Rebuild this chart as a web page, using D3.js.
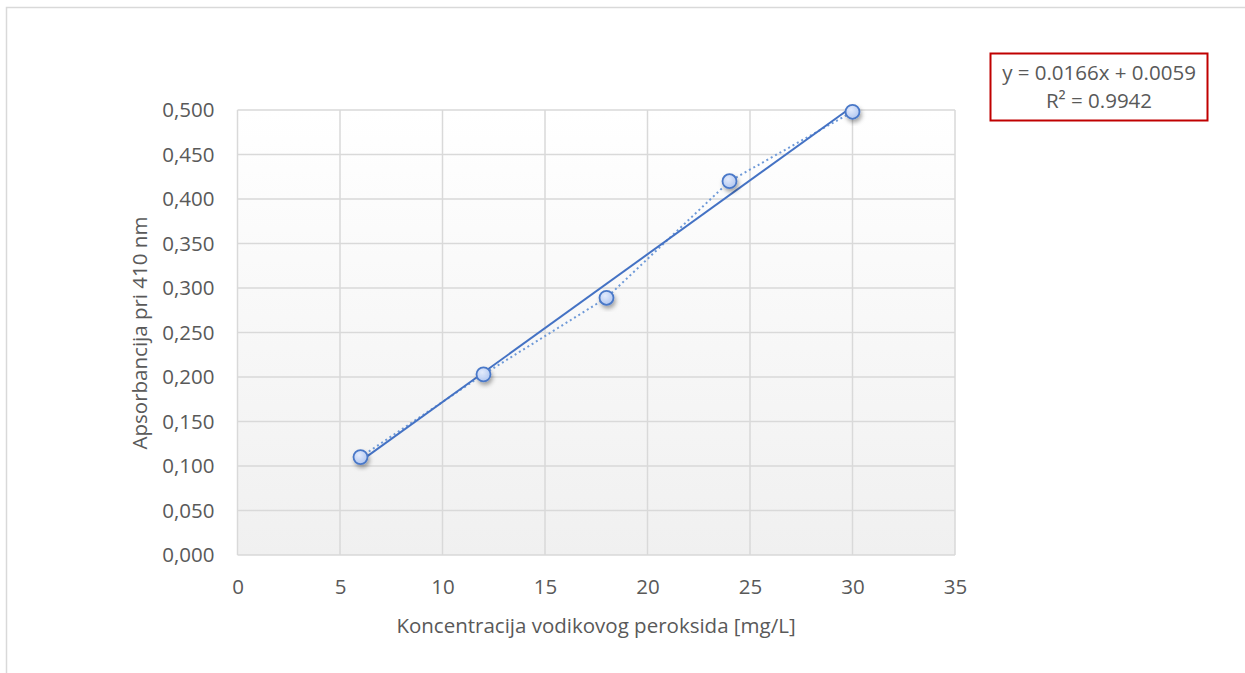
<!DOCTYPE html>
<html><head><meta charset="utf-8">
<script src="https://cdn.jsdelivr.net/npm/d3@7"></script>
<style>body{margin:0;background:#fff;}text{font-family:"Open Sans","Noto Sans",sans-serif;fill:#595959;}</style>
</head><body>
<svg id="c" width="1245" height="673"></svg>
<script>
const xValues = [6, 12, 18, 24, 30];
const yValues = [0.110, 0.203, 0.289, 0.420, 0.498];
const xTicks = [0, 5, 10, 15, 20, 25, 30, 35];
const yTicks = [0, 0.05, 0.1, 0.15, 0.2, 0.25, 0.3, 0.35, 0.4, 0.45, 0.5];
const slope = 0.0166, intercept = 0.0059;
const eqLines = ["y = 0.0166x + 0.0059", "R² = 0.9942"];
const xTitle = "Koncentracija vodikovog peroksida [mg/L]";
const yTitle = "Apsorbancija pri 410 nm";

const FS = "20.5px";
const svg = d3.select("#c");
const L = 237.5, R = 955, T = 110, B = 555;
const x = d3.scaleLinear().domain([0, 35]).range([L, R]);
const y = d3.scaleLinear().domain([0, 0.5]).range([B, T]);

svg.append("path").attr("d", "M6.5,673 V7.5 H1245").attr("fill", "none").attr("stroke", "#d9d9d9").attr("stroke-width", 1.5);

const defs = svg.append("defs");
const g1 = defs.append("linearGradient").attr("id", "bg").attr("x1", 0).attr("y1", 0).attr("x2", 0).attr("y2", 1);
g1.append("stop").attr("offset", "0%").attr("stop-color", "#ffffff");
g1.append("stop").attr("offset", "100%").attr("stop-color", "#f0f0f0");
const g2 = defs.append("radialGradient").attr("id", "mk").attr("cx", "40%").attr("cy", "35%").attr("r", "70%");
g2.append("stop").attr("offset", "0%").attr("stop-color", "#e3ebfc");
g2.append("stop").attr("offset", "100%").attr("stop-color", "#afc5f0");
const f = defs.append("filter").attr("id", "sh").attr("x", "-50%").attr("y", "-50%").attr("width", "200%").attr("height", "200%");
f.append("feDropShadow").attr("dx", 1.5).attr("dy", 3).attr("stdDeviation", 2).attr("flood-color", "#000").attr("flood-opacity", 0.35);

svg.append("rect").attr("x", L).attr("y", T).attr("width", R - L).attr("height", B - T).attr("fill", "url(#bg)");

svg.append("g").selectAll("line").data(xTicks).join("line")
  .attr("x1", d => x(d)).attr("x2", d => x(d)).attr("y1", T).attr("y2", B)
  .attr("stroke", "#d9d9d9").attr("stroke-width", 1.5);
svg.append("g").selectAll("line").data(yTicks).join("line")
  .attr("x1", L).attr("x2", R).attr("y1", d => y(d)).attr("y2", d => y(d))
  .attr("stroke", "#d9d9d9").attr("stroke-width", 1.5);

const xa = svg.append("g").attr("transform", `translate(0,${B})`)
  .call(d3.axisBottom(x).tickValues(xTicks).tickSize(0).tickPadding(24).tickFormat(d3.format("d")));
const ya = svg.append("g").attr("transform", `translate(${L},0)`)
  .call(d3.axisLeft(y).tickValues(yTicks).tickSize(0).tickPadding(23).tickFormat(d => d3.format(".3f")(d).replace(".", ",")));
[xa, ya].forEach(a => { a.select(".domain").remove(); a.selectAll("text").style("font-size", FS).attr("fill", "#595959").style("font-family", "'Open Sans','Noto Sans',sans-serif"); });

const pts = xValues.map((v, i) => [v, yValues[i]]);
svg.append("path").datum(pts)
  .attr("d", d3.line().x(d => x(d[0])).y(d => y(d[1])))
  .attr("fill", "none").attr("stroke", "#6f9ad8").attr("stroke-width", 2).attr("stroke-dasharray", "2,3");

const xr = d3.extent(xValues);
svg.append("line")
  .attr("x1", x(xr[0])).attr("y1", y(slope * xr[0] + intercept))
  .attr("x2", x(xr[1])).attr("y2", y(slope * xr[1] + intercept))
  .attr("stroke", "#4472c4").attr("stroke-width", 2);

svg.append("g").selectAll("circle").data(pts).join("circle")
  .attr("cx", d => x(d[0])).attr("cy", d => y(d[1])).attr("r", 7)
  .attr("fill", "url(#mk)").attr("stroke", "#4a78c8").attr("stroke-width", 1.8).attr("filter", "url(#sh)");

svg.append("text").attr("x", 596).attr("y", 633).attr("text-anchor", "middle").style("font-size", FS).text(xTitle);
svg.append("text").attr("transform", "translate(147,333) rotate(-90)").attr("text-anchor", "middle").style("font-size", FS).text(yTitle);

svg.append("rect").attr("x", 990.5).attr("y", 53.5).attr("width", 217).attr("height", 67).attr("fill", "#fff").attr("stroke", "#c00000").attr("stroke-width", 2);
svg.append("g").selectAll("text").data(eqLines).join("text")
  .attr("x", 1099).attr("y", (d, i) => 80 + i * 28).attr("text-anchor", "middle").style("font-size", FS).text(d => d);
</script>
</body></html>
